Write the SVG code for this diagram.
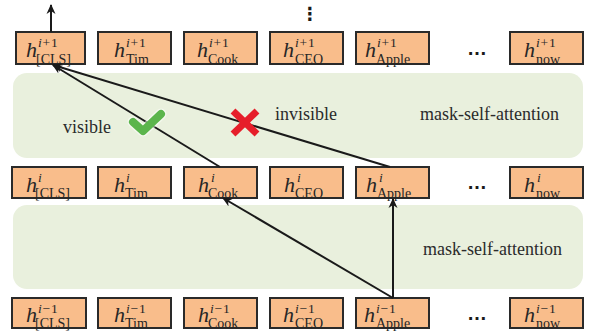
<svg xmlns="http://www.w3.org/2000/svg" width="589" height="335" viewBox="0 0 589 335">
<defs>
<style>
.panel{fill:#e9f0dd;}
.box{fill:#f9bd8b;stroke:#2a2a2a;stroke-width:2;}
.h{font-family:"Liberation Serif",serif;font-style:italic;font-size:22px;fill:#262626;}
.sup{font-family:"Liberation Serif",serif;font-size:13.5px;letter-spacing:0.8px;fill:#262626;}
.sub{font-family:"Liberation Serif",serif;font-size:14px;fill:#262626;}
.it{font-style:italic;}
.lbl{font-family:"Liberation Serif",serif;font-size:18px;fill:#2b2b2b;}
.dots{font-family:"Liberation Sans",sans-serif;font-weight:bold;font-size:20px;fill:#1a1a1a;}
.conn{stroke:#1a1a1a;stroke-width:2;fill:none;marker-end:url(#arr);}
</style>
<marker id="arr" viewBox="0 0 10 10" refX="9" refY="5" markerWidth="10" markerHeight="10" markerUnits="userSpaceOnUse" orient="auto">
<path d="M0,0.5 L10,5 L0,9.5 L3,5 z" fill="#1a1a1a"/>
</marker>
</defs>

<g id="panel-top"><rect class="panel" x="13" y="73" width="570" height="85" rx="14"/></g>
<g id="panel-bottom"><rect class="panel" x="13" y="205" width="570" height="84" rx="14"/></g>

<g id="text-labels">
<text class="lbl" x="63" y="133">visible</text>
<text class="lbl" x="275" y="120">invisible</text>
<text class="lbl" x="420" y="120">mask-self-attention</text>
<text class="lbl" x="423" y="255">mask-self-attention</text>
</g>

<!-- top row -->
<g id="top-cls"><rect class="box" x="16" y="32" width="69" height="32"/><text class="h" x="26" y="57">h</text><text class="sup" x="38" y="47"><tspan class="it">i</tspan>+1</text><text class="sub" x="36" y="63.5">[CLS]</text></g>
<g id="top-tim"><rect class="box" x="98" y="32" width="73" height="32"/><text class="h" x="114" y="57">h</text><text class="sup" x="126" y="47"><tspan class="it">i</tspan>+1</text><text class="sub" x="126" y="63.5">Tim</text></g>
<g id="top-cook"><rect class="box" x="184" y="32" width="73" height="32"/><text class="h" x="197" y="57">h</text><text class="sup" x="209" y="47"><tspan class="it">i</tspan>+1</text><text class="sub" x="208" y="63.5">Cook</text></g>
<g id="top-ceo"><rect class="box" x="270" y="32" width="73" height="32"/><text class="h" x="283" y="57">h</text><text class="sup" x="295" y="47"><tspan class="it">i</tspan>+1</text><text class="sub" x="295" y="63.5">CEO</text></g>
<g id="top-apple"><rect class="box" x="356" y="32" width="73" height="32"/><text class="h" x="365" y="57">h</text><text class="sup" x="377" y="47"><tspan class="it">i</tspan>+1</text><text class="sub" x="376" y="63.5">Apple</text></g>
<text class="dots" x="467" y="55">…</text>
<g id="top-now"><rect class="box" x="510" y="32" width="73" height="32"/><text class="h" x="524" y="57">h</text><text class="sup" x="536" y="47"><tspan class="it">i</tspan>+1</text><text class="sub" x="536" y="63.5">now</text></g>
<text x="301" y="20" style="font-family:'DejaVu Sans',sans-serif;font-weight:bold;font-size:18px;fill:#1a1a1a">⋮</text>

<!-- middle row -->
<g id="mid-cls"><rect class="box" x="12" y="167" width="74" height="31"/><text class="h" x="26" y="191.5">h</text><text class="sup it" x="38" y="182">i</text><text class="sub" x="35" y="197.5">[CLS]</text></g>
<g id="mid-tim"><rect class="box" x="98" y="167" width="73" height="31"/><text class="h" x="114" y="191.5">h</text><text class="sup it" x="126" y="182">i</text><text class="sub" x="125" y="197.5">Tim</text></g>
<g id="mid-cook"><rect class="box" x="184" y="167" width="73" height="31"/><text class="h" x="198" y="191.5">h</text><text class="sup it" x="211" y="182">i</text><text class="sub" x="208" y="197.5">Cook</text></g>
<g id="mid-ceo"><rect class="box" x="270" y="167" width="73" height="31"/><text class="h" x="284" y="191.5">h</text><text class="sup it" x="297" y="182">i</text><text class="sub" x="295" y="197.5">CEO</text></g>
<g id="mid-apple"><rect class="box" x="356" y="167" width="73" height="31"/><text class="h" x="366" y="191.5">h</text><text class="sup it" x="379" y="182">i</text><text class="sub" x="377" y="197.5">Apple</text></g>
<text class="dots" x="467" y="189">…</text>
<g id="mid-now"><rect class="box" x="510" y="167" width="73" height="31"/><text class="h" x="524" y="191.5">h</text><text class="sup it" x="537" y="182">i</text><text class="sub" x="536" y="197.5">now</text></g>

<!-- bottom row -->
<g id="bot-cls"><rect class="box" x="12" y="298" width="74" height="30"/><text class="h" x="26" y="322">h</text><text class="sup" x="38" y="312.5"><tspan class="it">i</tspan>−1</text><text class="sub" x="35" y="328">[CLS]</text></g>
<g id="bot-tim"><rect class="box" x="98" y="298" width="73" height="30"/><text class="h" x="114" y="322">h</text><text class="sup" x="126" y="312.5"><tspan class="it">i</tspan>−1</text><text class="sub" x="125" y="328">Tim</text></g>
<g id="bot-cook"><rect class="box" x="184" y="298" width="73" height="30"/><text class="h" x="198" y="322">h</text><text class="sup" x="210" y="312.5"><tspan class="it">i</tspan>−1</text><text class="sub" x="208" y="328">Cook</text></g>
<g id="bot-ceo"><rect class="box" x="270" y="298" width="73" height="30"/><text class="h" x="283" y="322">h</text><text class="sup" x="295" y="312.5"><tspan class="it">i</tspan>−1</text><text class="sub" x="295" y="328">CEO</text></g>
<g id="bot-apple"><rect class="box" x="356" y="298" width="73" height="30"/><text class="h" x="364" y="322">h</text><text class="sup" x="376" y="312.5"><tspan class="it">i</tspan>−1</text><text class="sub" x="376" y="328">Apple</text></g>
<text class="dots" x="467" y="320">…</text>
<g id="bot-now"><rect class="box" x="510" y="298" width="73" height="30"/><text class="h" x="524" y="322">h</text><text class="sup" x="536" y="312.5"><tspan class="it">i</tspan>−1</text><text class="sub" x="536" y="328">now</text></g>

<g id="connectors">
<line class="conn" x1="51" y1="32" x2="51" y2="5"/>
<line class="conn" x1="220" y1="167" x2="53" y2="65"/>
<line class="conn" x1="390" y1="167" x2="53" y2="65"/>
<line class="conn" x1="393" y1="298" x2="393" y2="199"/>
<line class="conn" x1="393" y1="298" x2="223" y2="198"/>
</g>

<g id="marks">
<polyline points="133,122 143,131 161,114" fill="none" stroke="#ffffff" stroke-opacity="0.5" stroke-width="11" stroke-linecap="round" stroke-linejoin="round"/>
<polyline points="133,122 143,131 161,114" fill="none" stroke="#5bb54c" stroke-width="8" stroke-linecap="round" stroke-linejoin="round"/>
<path d="M233,111 L257,134 M257,111 L233,134" stroke="#e61e2a" stroke-width="7"/>
</g>
</svg>
